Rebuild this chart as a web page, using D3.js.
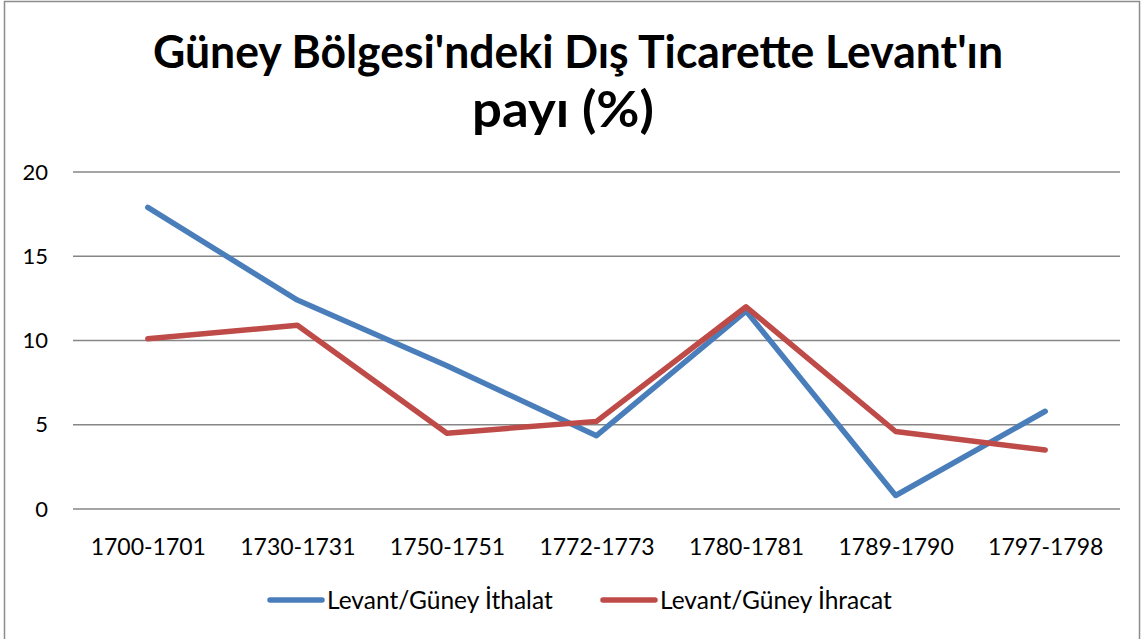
<!DOCTYPE html>
<html>
<head>
<meta charset="utf-8">
<script src="https://cdn.jsdelivr.net/npm/d3@7"></script>
<style>
  body { margin: 0; background: #fff; }
  text { font-family: Lato, "Open Sans", sans-serif; }
</style>
</head>
<body>
<div id="chart-area"></div>
<script>
// data
var periods = ["1700-1701", "1730-1731", "1750-1751", "1772-1773", "1780-1781", "1789-1790", "1797-1798"];
var ithalat = [17.9, 12.4, 8.5, 4.35, 11.75, 0.8, 5.8];
var ihracat = [10.1, 10.9, 4.5, 5.2, 12.0, 4.6, 3.5];
var yTicks = [0, 5, 10, 15, 20];
var seriesNames = ["Levant/Güney İthalat", "Levant/Güney İhracat"];
var seriesColors = ["#4A7EBB", "#BE4B48"];

var W = 1142, H = 639;
var margin = { left: 73, right: 22, top: 172, bottom: 130 };
var width = W - margin.left - margin.right,
    height = H - margin.top - margin.bottom;

var svg = d3.select("#chart-area")
  .append("svg")
    .attr("width", W)
    .attr("height", H);

// outer frame
svg.append("rect")
  .attr("x", 4.5).attr("y", 1.5)
  .attr("width", 1135).attr("height", 645)
  .attr("fill", "none")
  .attr("stroke", "#8c8c8c")
  .attr("stroke-width", 1.5);

// title
var title = svg.append("text")
  .attr("text-anchor", "middle")
  .attr("font-weight", "bold");
title.append("tspan").attr("x", 578).attr("y", 68)
  .attr("font-size", "46px")
  .attr("textLength", 850).attr("lengthAdjust", "spacingAndGlyphs")
  .text("Güney Bölgesi'ndeki Dış Ticarette Levant'ın");
title.append("tspan").attr("x", 563).attr("y", 127)
  .attr("font-size", "50px")
  .attr("textLength", 182).attr("lengthAdjust", "spacingAndGlyphs")
  .text("payı (%)");

var g = svg.append("g")
  .attr("transform", "translate(" + margin.left + "," + margin.top + ")");

var x = d3.scalePoint()
  .domain(periods)
  .range([0, width])
  .padding(0.5);

var y = d3.scaleLinear()
  .domain([0, 20])
  .range([height, 0]);

// gridlines
g.selectAll(".grid")
  .data(yTicks)
  .enter().append("line")
    .attr("class", "grid")
    .attr("x1", 0).attr("x2", width)
    .attr("y1", function(d) { return y(d); })
    .attr("y2", function(d) { return y(d); })
    .attr("stroke", "#868686")
    .attr("stroke-width", 1.5);

// Y axis
var yAxis = g.append("g")
  .call(d3.axisLeft(y).tickValues(yTicks).tickSize(0).tickPadding(25));
yAxis.select(".domain").remove();
yAxis.selectAll("text")
  .attr("font-size", "22px")
  .attr("fill", "#000")
  .style("font-family", "Lato, 'Open Sans', sans-serif");

// X axis
var xAxis = g.append("g")
  .attr("transform", "translate(0," + height + ")")
  .call(d3.axisBottom(x).tickSize(0).tickPadding(30));
xAxis.select(".domain").remove();
xAxis.selectAll("text")
  .attr("font-size", "23px")
  .attr("fill", "#000")
  .style("font-family", "Lato, 'Open Sans', sans-serif");

var line = d3.line()
  .x(function(d, i) { return x(periods[i]); })
  .y(function(d) { return y(d); });

[ithalat, ihracat].forEach(function(s, i) {
  g.append("path")
    .datum(s)
    .attr("d", line)
    .attr("fill", "none")
    .attr("stroke", seriesColors[i])
    .attr("stroke-width", 5.5)
    .attr("stroke-linecap", "round")
    .attr("stroke-linejoin", "round");
});

// legend
var legendX = [270, 603];
var legend = svg.selectAll(".legend")
  .data(seriesNames)
  .enter().append("g")
    .attr("class", "legend")
    .attr("transform", function(d, i) { return "translate(" + legendX[i] + ",600)"; });
legend.append("line")
  .attr("x1", 0).attr("x2", 52)
  .attr("stroke", function(d, i) { return seriesColors[i]; })
  .attr("stroke-width", 5.5)
  .attr("stroke-linecap", "round");
legend.append("text")
  .attr("x", 57)
  .attr("y", 9)
  .attr("font-size", "24.5px")
  .text(function(d) { return d; });
</script>
</body>
</html>
